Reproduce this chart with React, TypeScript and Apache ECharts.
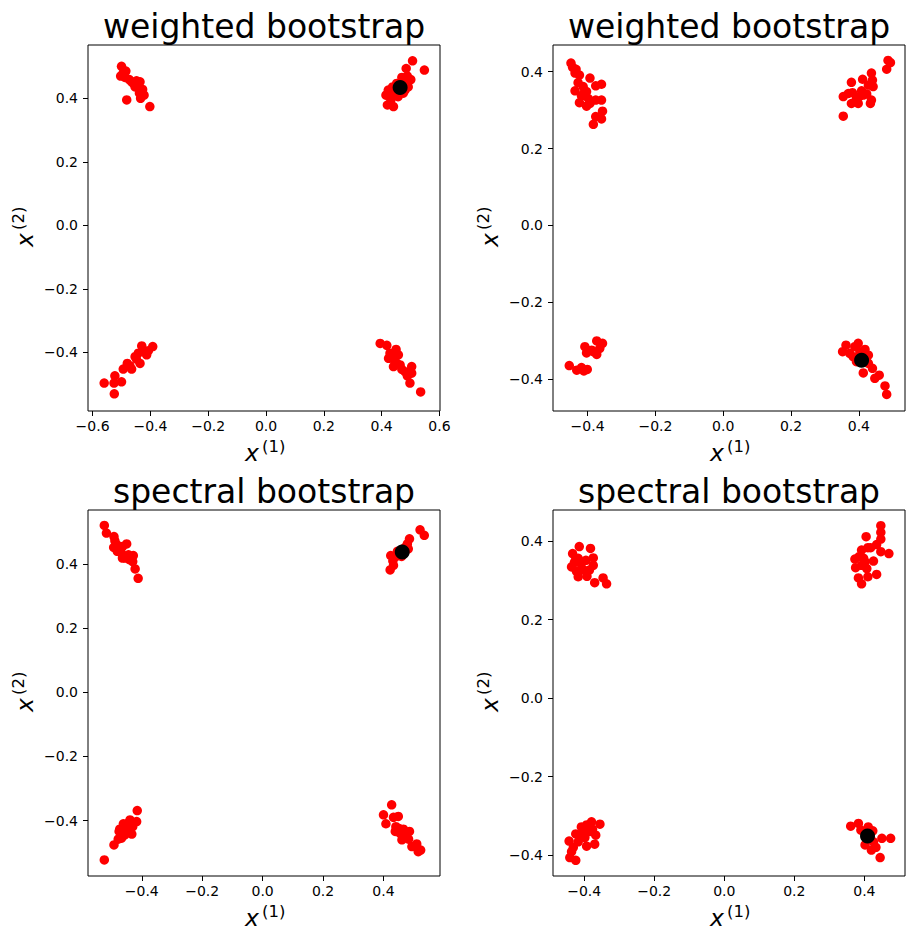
import React, { useEffect, useRef } from 'react';
import * as echarts from 'echarts';

type Pt = [number, number];

// subplot titles, row by row
const panelTitles = ['weighted bootstrap', 'weighted bootstrap', 'spectral bootstrap', 'spectral bootstrap'];

// red bootstrap samples
const weightedLeftPoints: Pt[] = [
  [-0.500, 0.501], [-0.485, 0.486], [-0.503, 0.470], [-0.488, 0.466], [-0.473, 0.459], [-0.459, 0.447],
  [-0.448, 0.455], [-0.436, 0.452], [-0.453, 0.436], [-0.427, 0.428], [-0.438, 0.416], [-0.422, 0.410],
  [-0.434, 0.400], [-0.482, 0.395], [-0.402, 0.374], [-0.494, 0.480], [-0.465, 0.452],
  [0.507, 0.518], [0.548, 0.489], [0.485, 0.494], [0.501, 0.459], [0.489, 0.470], [0.478, 0.452],
  [0.415, 0.410], [0.420, 0.379], [0.441, 0.374], [0.432, 0.395], [0.423, 0.426], [0.446, 0.416],
  [0.457, 0.405], [0.475, 0.416], [0.492, 0.436], [0.438, 0.436], [0.452, 0.447], [0.470, 0.466],
  [0.481, 0.426], [0.434, 0.410], [0.464, 0.421],
  [-0.560, -0.497], [-0.525, -0.531], [-0.523, -0.474], [-0.500, -0.493], [-0.526, -0.497], [-0.494, -0.453],
  [-0.480, -0.435], [-0.465, -0.453], [-0.453, -0.414], [-0.436, -0.435], [-0.430, -0.380], [-0.413, -0.408],
  [-0.392, -0.382], [-0.425, -0.398], [-0.442, -0.403], [-0.471, -0.443], [-0.448, -0.422], [-0.407, -0.395],
  [0.395, -0.372], [0.418, -0.378], [0.450, -0.391], [0.429, -0.403], [0.424, -0.419], [0.443, -0.424],
  [0.458, -0.408], [0.441, -0.445], [0.464, -0.440], [0.504, -0.445], [0.481, -0.461], [0.504, -0.466],
  [0.489, -0.474], [0.498, -0.497], [0.535, -0.525], [0.452, -0.434], [0.435, -0.411], [0.470, -0.454],
];

const weightedRightPoints: Pt[] = [
  [-0.449, 0.422], [-0.444, 0.411], [-0.434, 0.406], [-0.437, 0.396], [-0.424, 0.391], [-0.393, 0.383],
  [-0.428, 0.371], [-0.437, 0.350], [-0.413, 0.361], [-0.403, 0.348], [-0.376, 0.363], [-0.359, 0.367],
  [-0.418, 0.337], [-0.398, 0.330], [-0.424, 0.319], [-0.403, 0.310], [-0.376, 0.326], [-0.359, 0.326],
  [-0.356, 0.297], [-0.376, 0.283], [-0.359, 0.277], [-0.383, 0.263], [-0.411, 0.344], [-0.393, 0.317],
  [0.486, 0.429], [0.493, 0.423], [0.482, 0.406], [0.437, 0.396], [0.411, 0.380], [0.378, 0.372],
  [0.440, 0.378], [0.442, 0.361], [0.428, 0.365], [0.354, 0.335], [0.369, 0.343], [0.381, 0.345],
  [0.393, 0.330], [0.378, 0.317], [0.398, 0.317], [0.413, 0.339], [0.408, 0.350], [0.423, 0.342],
  [0.437, 0.326], [0.434, 0.317], [0.354, 0.284], [0.401, 0.335],
  [-0.454, -0.364], [-0.432, -0.376], [-0.418, -0.369], [-0.411, -0.378], [-0.401, -0.374], [-0.408, -0.315],
  [-0.403, -0.331], [-0.388, -0.324], [-0.373, -0.300], [-0.356, -0.306], [-0.364, -0.319], [-0.373, -0.335],
  [-0.383, -0.328],
  [0.352, -0.328], [0.362, -0.311], [0.373, -0.332], [0.388, -0.315], [0.398, -0.306], [0.418, -0.322],
  [0.428, -0.337], [0.383, -0.341], [0.393, -0.354], [0.428, -0.358], [0.440, -0.371], [0.413, -0.383],
  [0.460, -0.389], [0.447, -0.397], [0.477, -0.417], [0.482, -0.439], [0.403, -0.328], [0.421, -0.348],
];

const spectralLeftPoints: Pt[] = [
  [-0.524, 0.521], [-0.517, 0.497], [-0.492, 0.486], [-0.489, 0.473], [-0.493, 0.452], [-0.482, 0.460],
  [-0.478, 0.445], [-0.464, 0.455], [-0.450, 0.463], [-0.467, 0.434], [-0.455, 0.419], [-0.464, 0.419],
  [-0.444, 0.429], [-0.433, 0.421], [-0.428, 0.427], [-0.430, 0.408], [-0.422, 0.385], [-0.412, 0.356],
  [-0.481, 0.440], [-0.441, 0.414],
  [0.521, 0.507], [0.535, 0.490], [0.486, 0.479], [0.479, 0.463], [0.482, 0.448], [0.424, 0.427],
  [0.431, 0.410], [0.433, 0.396], [0.422, 0.382], [0.446, 0.440], [0.460, 0.424], [0.442, 0.424],
  [0.471, 0.452],
  [-0.524, -0.523], [-0.492, -0.476], [-0.478, -0.458], [-0.475, -0.434], [-0.461, -0.410], [-0.456, -0.445],
  [-0.448, -0.424], [-0.439, -0.398], [-0.433, -0.442], [-0.430, -0.419], [-0.417, -0.403], [-0.415, -0.369],
  [-0.467, -0.455], [-0.453, -0.429], [-0.445, -0.408], [-0.473, -0.427],
  [0.427, -0.351], [0.400, -0.382], [0.408, -0.410], [0.433, -0.390], [0.449, -0.387], [0.441, -0.419],
  [0.439, -0.434], [0.455, -0.440], [0.466, -0.427], [0.486, -0.434], [0.461, -0.460], [0.483, -0.458],
  [0.494, -0.481], [0.510, -0.473], [0.523, -0.492], [0.515, -0.497], [0.471, -0.448], [0.452, -0.425],
];

const spectralRightPoints: Pt[] = [
  [-0.433, 0.368], [-0.414, 0.386], [-0.382, 0.381], [-0.436, 0.334], [-0.425, 0.351], [-0.417, 0.356],
  [-0.408, 0.343], [-0.395, 0.351], [-0.374, 0.357], [-0.374, 0.338], [-0.422, 0.323], [-0.417, 0.309],
  [-0.401, 0.326], [-0.392, 0.310], [-0.385, 0.326], [-0.370, 0.294], [-0.346, 0.306], [-0.336, 0.291],
  [-0.428, 0.345], [-0.408, 0.330],
  [0.447, 0.439], [0.447, 0.422], [0.447, 0.405], [0.405, 0.411], [0.435, 0.391], [0.418, 0.383],
  [0.392, 0.377], [0.410, 0.383], [0.447, 0.373], [0.470, 0.368], [0.373, 0.354], [0.385, 0.360],
  [0.398, 0.356], [0.426, 0.349], [0.375, 0.332], [0.392, 0.338], [0.407, 0.330], [0.383, 0.306],
  [0.392, 0.291], [0.410, 0.309], [0.435, 0.315], [0.402, 0.347],
  [-0.443, -0.364], [-0.424, -0.346], [-0.408, -0.328], [-0.393, -0.323], [-0.379, -0.315], [-0.355, -0.321],
  [-0.367, -0.349], [-0.386, -0.340], [-0.398, -0.355], [-0.393, -0.377], [-0.370, -0.372], [-0.417, -0.366],
  [-0.431, -0.380], [-0.436, -0.391], [-0.441, -0.406], [-0.424, -0.413], [-0.412, -0.353], [-0.403, -0.340],
  [-0.376, -0.334],
  [0.361, -0.326], [0.383, -0.319], [0.390, -0.336], [0.411, -0.328], [0.424, -0.338], [0.402, -0.374],
  [0.420, -0.387], [0.433, -0.380], [0.450, -0.357], [0.475, -0.357], [0.445, -0.406], [0.426, -0.366],
];

// black reference point per panel
const panelCenters: Pt[] = [[0.464, 0.434], [0.408, -0.350], [0.462, 0.438], [0.409, -0.351]];

const panelPoints = [weightedLeftPoints, weightedRightPoints, spectralLeftPoints, spectralRightPoints];

// axis limits and ticks as they appear in the picture
const xLimits: Pt[] = [[-0.616, 0.602], [-0.502, 0.536], [-0.578, 0.587], [-0.489, 0.516]];
const yLimits: Pt[] = [[-0.585, 0.568], [-0.482, 0.469], [-0.573, 0.569], [-0.453, 0.479]];
const xTicks = [
  [-0.6, -0.4, -0.2, 0, 0.2, 0.4, 0.6],
  [-0.4, -0.2, 0, 0.2, 0.4],
  [-0.4, -0.2, 0, 0.2, 0.4],
  [-0.4, -0.2, 0, 0.2, 0.4],
];
const yTicks = [-0.4, -0.2, 0, 0.2, 0.4];

const FONT = '"DejaVu Sans", sans-serif';
const gridLefts = [88, 553];
const gridTops = [45, 510];
const GRID_W = 352;
const GRID_H = 366;

const fmt = (v: number) => (v < -1e-9 ? '\u2212' : '') + Math.abs(v).toFixed(1);

// x^(n) label built from two texts, rotated for the y axis
const mathLabel = (cx: number, cy: number, sup: string, rotated: boolean) => ({
  type: 'group',
  x: cx,
  y: cy,
  rotation: rotated ? Math.PI / 2 : 0,
  children: [
    {
      type: 'text',
      x: -19,
      y: -7,
      style: {
        text: 'x', fontFamily: FONT, fontStyle: 'italic', fontSize: 23.5, fill: '#000',
        align: 'left', verticalAlign: 'middle',
      },
    },
    {
      type: 'text',
      x: -2,
      y: -14,
      style: {
        text: sup, fontFamily: FONT, fontSize: 16.5, fill: '#000',
        align: 'left', verticalAlign: 'middle',
      },
    },
  ],
});

const App: React.FC = () => {
  const chartRef = useRef<HTMLDivElement>(null);

  useEffect(() => {
    if (!chartRef.current) return;
    const chart = echarts.init(chartRef.current, null, { renderer: 'svg' });

    const grids: any[] = [];
    const xAxes: any[] = [];
    const yAxes: any[] = [];
    const series: any[] = [];
    const graphics: any[] = [];

    panelPoints.forEach((pts, i) => {
      const left = gridLefts[i % 2];
      const top = gridTops[Math.floor(i / 2)];
      grids.push({
        left, top, width: GRID_W, height: GRID_H,
        show: true, borderColor: '#000', borderWidth: 1, backgroundColor: '#fff',
      });
      const axisCommon = {
        type: 'value',
        gridIndex: i,
        axisLine: { show: false, onZero: false },
        splitLine: { show: false },
        axisTick: { show: true, length: 5, lineStyle: { color: '#000', width: 1 } },
        axisLabel: { color: '#000', fontFamily: FONT, fontSize: 14, formatter: fmt },
      };
      xAxes.push({
        ...axisCommon,
        position: 'bottom',
        min: xLimits[i][0],
        max: xLimits[i][1],
        axisTick: { ...axisCommon.axisTick, customValues: xTicks[i] },
        axisLabel: { ...axisCommon.axisLabel, margin: 8, customValues: xTicks[i] },
      });
      yAxes.push({
        ...axisCommon,
        position: 'left',
        min: yLimits[i][0],
        max: yLimits[i][1],
        axisTick: { ...axisCommon.axisTick, customValues: yTicks },
        axisLabel: { ...axisCommon.axisLabel, margin: 10, customValues: yTicks },
      });
      series.push({
        type: 'scatter', xAxisIndex: i, yAxisIndex: i, data: pts,
        symbolSize: 9.5, itemStyle: { color: '#ff0000', opacity: 1 },
      });
      series.push({
        type: 'scatter', xAxisIndex: i, yAxisIndex: i, data: [panelCenters[i]],
        symbolSize: 15, itemStyle: { color: '#000', opacity: 1 }, z: 3,
      });

      const cx = left + GRID_W / 2;
      graphics.push({
        type: 'text',
        x: cx,
        y: top - 19,
        style: {
          text: panelTitles[i], fontFamily: FONT, fontSize: 33, fill: '#000',
          align: 'center', verticalAlign: 'middle',
        },
      });
      graphics.push(mathLabel(cx, top + GRID_H + 49, '(1)', false));
      graphics.push(mathLabel(left - 56, top + GRID_H / 2, '(2)', true));
    });

    chart.setOption({
      animation: false,
      backgroundColor: '#fff',
      grid: grids,
      xAxis: xAxes,
      yAxis: yAxes,
      series,
      graphic: graphics,
    });

    return () => {
      chart.dispose();
    };
  }, []);

  return (
    <div
      ref={chartRef}
      style={{ position: 'absolute', left: 0, top: 0, width: '915px', height: '944px' }}
    />
  );
};

export default App;
